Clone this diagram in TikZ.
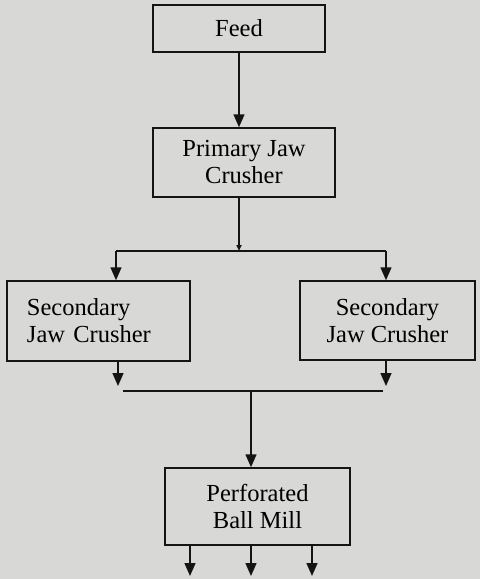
\documentclass[tikz,border=0pt]{standalone}
\usepackage{fontspec}
\setmainfont{Liberation Serif}
\usepackage{tikz}
\usetikzlibrary{positioning, arrows.meta, calc}
\definecolor{PaperGray}{RGB}{216,216,214}
\definecolor{InkBlack}{RGB}{20,20,20}

\begin{document}
\begin{tikzpicture}[x=1pt, y=-1pt,
    box/.style={draw=InkBlack, line width=1.5pt, fill=PaperGray, align=center,
                font=\fontsize{24.5}{27}\selectfont, inner sep=0pt},
    flow/.style={-{Triangle[width=11pt,length=13pt]}, line width=1.5pt, InkBlack},
    link/.style={line width=1.5pt, InkBlack}]
                % Fondo
                \fill[PaperGray] (0,0) rectangle (480,579);
                
                % Nodos
                \node[box, minimum width=172pt, minimum height=47pt] (Feed) at (239,28.5) {Feed};
                \node[box, minimum width=182pt, minimum height=69pt] (PJC) at (244,162.5) {Primary Jaw\\Crusher};
                \node[box, minimum width=183pt, minimum height=80pt, text width=143pt, align=left] (SJCL) at (98.5,321) {Secondary\\Jaw Crusher};
                \node[box, minimum width=175pt, minimum height=79pt] (SJCR) at (387.5,320.5) {Secondary\\Jaw Crusher};
                \node[box, minimum width=185pt, minimum height=77pt] (PBM) at (257.5,506.5) {Perforated\\Ball Mill};
                
                % Puntos de union
                \coordinate (split) at (239,251);
                \coordinate (splitL) at (116,251);
                \coordinate (splitR) at (386,251);
                \coordinate (endL) at (118,386);
                \coordinate (endR) at (386,386);
                \coordinate (joinL) at (123,391);
                \coordinate (joinR) at (383,391);
                \coordinate (join) at (251,391);
                \coordinate (out1) at (190,576);
                \coordinate (out2) at (251,576);
                \coordinate (out3) at (312,576);
                
                % Conexiones
                \draw[flow] (Feed.south) -- (Feed.south |- PJC.north);
                \draw[link, -{Triangle[width=5pt,length=6pt]}] (split |- PJC.south) -- (split);
                \draw[link] (splitL) -- (splitR);
                \draw[flow] (splitL) -- (splitL |- SJCL.north);
                \draw[flow] (splitR) -- (splitR |- SJCR.north);
                \draw[flow] (endL |- SJCL.south) -- (endL);
                \draw[flow] (endR |- SJCR.south) -- (endR);
                \draw[link] (joinL) -- (joinR);
                \draw[flow] (join) -- (join |- PBM.north);
                \draw[flow] (out1 |- PBM.south) -- (out1);
                \draw[flow] (out2 |- PBM.south) -- (out2);
                \draw[flow] (out3 |- PBM.south) -- (out3);
            \end{tikzpicture}
\end{document}
